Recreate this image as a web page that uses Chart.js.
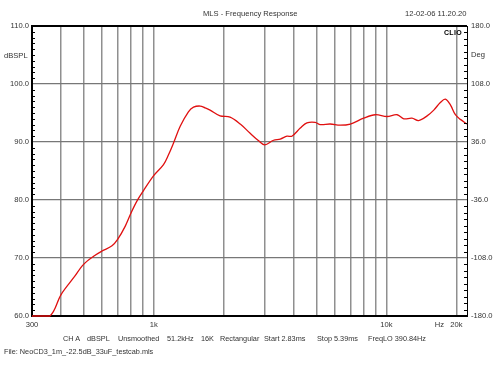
<!DOCTYPE html>
<html>
<head>
<meta charset="utf-8">
<script src="https://cdn.jsdelivr.net/npm/chart.js@4/dist/chart.umd.min.js"></script>
<style>
  body { margin: 0; background: #fff; }
  #wrap { position: relative; width: 500px; height: 375px; font-family: "Liberation Sans", Arial, sans-serif; color: #333; }
  #wrap canvas { position: absolute; left: 0; top: 0; }
  .txt { position: absolute; font-size: 7.6px; line-height: 10px; white-space: pre; }
  .foot { font-size: 7.3px; }
  .clio { font-weight: bold; color: #000; font-size: 7px; letter-spacing: 0.3px; }
</style>
</head>
<body>
<div id="wrap">
  <canvas id="frChart" width="500" height="375"></canvas>
  <div class="txt" style="left:203px; top:9px;">MLS - Frequency Response</div>
  <div class="txt" style="left:405px; top:9px;">12-02-06 11.20.20</div>
  <div class="txt" style="left:4px; top:51px;">dBSPL</div>
  <div class="txt" style="left:471px; top:50px;">Deg</div>
  <div class="txt clio" style="left:444px; top:28px;">CLIO</div>
  <div class="txt foot" style="left:63px; top:334px;">CH A</div>
  <div class="txt foot" style="left:87px; top:334px;">dBSPL</div>
  <div class="txt foot" style="left:118px; top:334px;">Unsmoothed</div>
  <div class="txt foot" style="left:167px; top:334px;">51.2kHz</div>
  <div class="txt foot" style="left:201px; top:334px;">16K</div>
  <div class="txt foot" style="left:220px; top:334px;">Rectangular</div>
  <div class="txt foot" style="left:264px; top:334px;">Start 2.83ms</div>
  <div class="txt foot" style="left:317px; top:334px;">Stop 5.39ms</div>
  <div class="txt foot" style="left:368px; top:334px;">FreqLO 390.84Hz</div>
  <div class="txt foot" style="left:4px; top:347px;">File: NeoCD3_1m_-22.5dB_33uF_testcab.mls</div>
</div>
<script>
// frequency response (Hz / dBSPL)
const freqs = [300, 358, 400, 453, 500, 552, 600, 662, 700, 755, 800, 847, 900, 1000,
  1102, 1158, 1216, 1300, 1410, 1483, 1584, 1660, 1747, 1929, 2129, 2355, 2597, 2825,
  3000, 3275, 3500, 3740, 3925, 4266, 4555, 4943, 5197, 5734, 6327, 7000, 7983, 8960,
  10060, 11120, 11880, 12880, 13750, 14960, 15980, 17050, 17920, 18840, 19790, 20790, 22200];
const splValues = [60, 60, 63.7, 66.6, 68.9, 70.3, 71.2, 72.1, 73.2, 75.5, 77.8, 79.8, 81.5, 84.2,
  86.1, 87.8, 89.8, 92.7, 95.2, 96.0, 96.2, 95.9, 95.5, 94.5, 94.3, 93.1, 91.5, 90.2,
  89.5, 90.3, 90.5, 91.0, 91.0, 92.4, 93.3, 93.4, 93.0, 93.1, 92.9, 93.1, 94.1, 94.7,
  94.4, 94.7, 94.0, 94.1, 93.7, 94.5, 95.5, 96.8, 97.4, 96.4, 94.7, 93.9, 93.1];

// x axis grid / labels
const xTickValues = [300, 400, 500, 600, 700, 800, 900, 1000, 2000, 3000, 4000, 5000,
  6000, 7000, 8000, 9000, 10000, 16900, 20000];
const xTickLabels = ['300', '', '', '', '', '', '', '1k', '', '', '', '',
  '', '', '', '', '10k', 'Hz', '20k'];
const hzLabelValue = 16900;

const labelFont = { family: '"Liberation Sans", Arial, sans-serif', size: 7.6 };

// minor ticks inside the frame + top border
const frameExtras = {
  id: 'frameExtras',
  afterDraw(chart) {
    const ctx = chart.ctx;
    const area = chart.chartArea;
    const y = chart.scales.y;
    const y1 = chart.scales.y1;
    ctx.save();
    ctx.strokeStyle = '#000';
    ctx.lineWidth = 1;
    ctx.beginPath();
    for (let v = 61; v < 110; v++) {
      if (v % 10 === 0) continue;
      const py = Math.round(y.getPixelForValue(v)) + 0.5;
      ctx.moveTo(area.left, py);
      ctx.lineTo(area.left + 3, py);
    }
    for (let d = -172; d < 180; d += 8) {
      if ((d + 180) % 72 === 0) continue;
      const py = Math.round(y1.getPixelForValue(d)) + 0.5;
      ctx.moveTo(area.right - 3, py);
      ctx.lineTo(area.right, py);
    }
    ctx.stroke();
    ctx.lineWidth = 2;
    ctx.beginPath();
    ctx.moveTo(area.left, area.top);
    ctx.lineTo(area.right, area.top);
    ctx.stroke();
    ctx.restore();
  }
};

new Chart(document.getElementById('frChart'), {
  type: 'line',
  data: {
    datasets: [{
      label: 'dBSPL',
      data: freqs.map((f, i) => ({ x: f, y: splValues[i] })),
      borderColor: '#e01010',
      borderWidth: 1.3,
      pointRadius: 0,
      tension: 0.35,
      clip: 2,
      yAxisID: 'y'
    }]
  },
  options: {
    responsive: false,
    animation: false,
    layout: { padding: { top: 26, left: 0, right: 0, bottom: 0 } },
    plugins: {
      legend: { display: false },
      tooltip: { enabled: false }
    },
    scales: {
      x: {
        type: 'logarithmic',
        min: 300,
        max: 22200,
        afterBuildTicks: scale => {
          scale.ticks = xTickValues.map(v => ({ value: v }));
        },
        afterFit: scale => { scale.height = 59; },
        ticks: {
          autoSkip: false,
          maxRotation: 0,
          padding: 4,
          color: '#333',
          font: labelFont,
          callback: (value, index) => xTickLabels[index]
        },
        grid: {
          drawTicks: false,
          lineWidth: 1.5,
          color: c => (c.tick && c.tick.value === hzLabelValue) ? 'rgba(0,0,0,0)' : '#8f8f8f'
        },
        border: { color: '#000', width: 2 }
      },
      y: {
        position: 'left',
        min: 60,
        max: 110,
        afterFit: scale => { scale.width = 32; },
        ticks: {
          stepSize: 10,
          padding: 3,
          color: '#333',
          font: labelFont,
          callback: v => v.toFixed(1)
        },
        grid: { drawTicks: false, color: '#777', lineWidth: 1.2 },
        border: { color: '#000', width: 2 }
      },
      y1: {
        position: 'right',
        min: -180,
        max: 180,
        afterFit: scale => { scale.width = 33; },
        ticks: {
          stepSize: 72,
          padding: 4,
          color: '#333',
          font: labelFont,
          callback: v => v.toFixed(1)
        },
        grid: { display: false, drawTicks: false },
        border: { color: '#000', width: 1 }
      }
    }
  },
  plugins: [frameExtras]
});
</script>
</body>
</html>
